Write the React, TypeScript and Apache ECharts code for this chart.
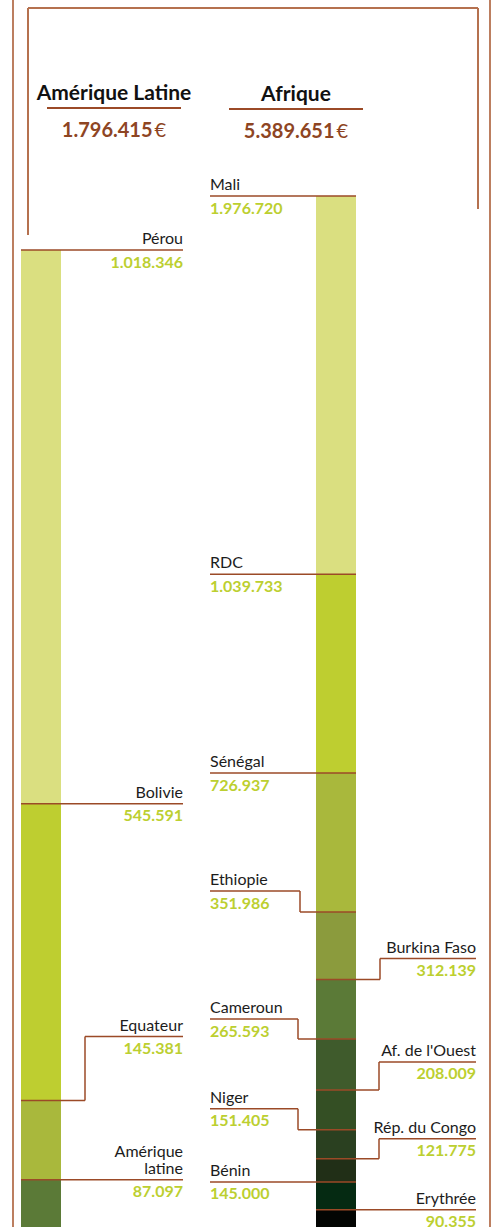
import React, { useEffect, useRef } from "react";
import * as echarts from "echarts";

// ---------- data ----------
const latinNames = ["Pérou", "Bolivie", "Equateur", "Amérique\nlatine"];
const latinValues = [1018346, 545591, 145381, 87097];
const latinTotalLabel = "1.796.415";

const africaNames = [
  "Mali", "RDC", "Sénégal", "Ethiopie", "Burkina Faso", "Cameroun",
  "Af. de l'Ouest", "Niger", "Rép. du Congo", "Bénin", "Erythrée",
];
const africaValues = [
  1976720, 1039733, 726937, 351986, 312139, 265593, 208009, 151405, 121775, 145000, 90355,
];
const africaTotalLabel = "5.389.651";

const regionTitles = ["Amérique Latine", "Afrique"];

// ---------- styles / layout ----------
const latinColors = ["#dadf80", "#bece30", "#a9b83c", "#5b7a37"];
const africaColors = [
  "#dadf80", "#bece30", "#a9b83c", "#8b9b3d", "#5b7a37", "#3f5b2c",
  "#344f24", "#2a4020", "#212f17", "#052a12", "#030503",
];
// label side, vertical offset of label line from segment top, elbow x
const latinLayout = [
  { side: "L", dy: 0, ex: null },
  { side: "L", dy: 0, ex: null },
  { side: "L", dy: -64, ex: 85 },
  { side: "L", dy: 0, ex: null },
];
const africaLayout = [
  { side: "L", dy: 0, ex: null },
  { side: "L", dy: 0, ex: null },
  { side: "L", dy: 0, ex: null },
  { side: "L", dy: -21, ex: 300 },
  { side: "R", dy: -21, ex: 380 },
  { side: "L", dy: -20, ex: 298 },
  { side: "R", dy: -28, ex: 379 },
  { side: "L", dy: -21, ex: 298 },
  { side: "R", dy: -20, ex: 379 },
  { side: "L", dy: 0, ex: null },
  { side: "R", dy: 0, ex: null },
];

const W = 494;
const H = 1227;
const G0 = { left: 21, width: 40, top: 250, height: 977 };
const G1 = { left: 316, width: 40, top: 196, height: 1031 };
const LINE = "#9b4a27";
const FRAME = "#b5714f";
const NAME_C = "#1c1c1c";
const VAL_C = "#bccf30";
const FONT = "Lato";

const fmt = (v: number) => String(v).replace(/\B(?=(\d{3})+(?!\d))/g, ".");

export default function App() {
  const ref = useRef<HTMLDivElement>(null);
  useEffect(() => {
    if (!ref.current) return;
    const chart = echarts.init(ref.current, undefined, { renderer: "svg" });
    const sum = (a: number[]) => a.reduce((s, v) => s + v, 0);

    const mkSeries = (names: string[], vals: number[], colors: string[], gi: number) =>
      vals.map((v, i) => ({
        type: "bar",
        name: names[i],
        stack: "s" + gi,
        xAxisIndex: gi,
        yAxisIndex: gi,
        barWidth: "100%",
        data: [v],
        itemStyle: { color: colors[i] },
        emphasis: { disabled: true },
      }));

    chart.setOption({
      animation: false,
      grid: [
        { left: G0.left, width: G0.width, top: G0.top, height: G0.height },
        { left: G1.left, width: G1.width, top: G1.top, height: G1.height },
      ],
      xAxis: [
        { type: "category", gridIndex: 0, data: [regionTitles[0]], show: false },
        { type: "category", gridIndex: 1, data: [regionTitles[1]], show: false },
      ],
      yAxis: [
        { type: "value", gridIndex: 0, inverse: true, min: 0, max: sum(latinValues), show: false },
        { type: "value", gridIndex: 1, inverse: true, min: 0, max: sum(africaValues), show: false },
      ],
      series: [
        ...mkSeries(latinNames, latinValues, latinColors, 0),
        ...mkSeries(africaNames, africaValues, africaColors, 1),
      ],
    });

    const g: any[] = [];
    const seg = (x1: number, y1: number, x2: number, y2: number, c = LINE, w = 1.5) =>
      g.push({ type: "line", shape: { x1, y1, x2, y2 }, style: { stroke: c, lineWidth: w }, z: 10 });
    const txt = (x: number, y: number, text: string, align: string, va: string, opts: any) =>
      g.push({
        type: "text", x, y, z: 11,
        style: { text, textAlign: align, textVerticalAlign: va, fontFamily: FONT, ...opts },
      });

    // frame
    seg(13, 0, 13, H, FRAME, 1.8);
    seg(490, 0, 490, H, FRAME, 1.8);
    seg(28, 8, 478, 8, FRAME, 2);
    seg(28, 8, 28, 235, FRAME, 2);
    seg(478, 8, 478, 209, FRAME, 2);

    // headers
    const header = (cx: number, title: string, total: string, ulX1: number, ulX2: number, ty: number) => {
      txt(cx, ty, title, "center", "middle", { fontSize: 21, fontWeight: "bold", fill: "#111" });
      seg(ulX1, ty + 17, ulX2, ty + 17, LINE, 2.2);
      g.push({
        type: "text", x: cx, y: ty + 38, z: 11,
        style: {
          text: `{a|${total}}{b|€}`,
          textAlign: "center",
          textVerticalAlign: "middle",
          rich: {
            a: { fontFamily: FONT, fontSize: 20, fontWeight: "bold", fill: "#8e4523", color: "#8e4523" },
            b: { fontFamily: FONT, fontSize: 20, fontWeight: "normal", fill: "#8e4523", color: "#8e4523", padding: [0, 0, 0, 2] },
          },
        },
      });
    };
    header(114, regionTitles[0], latinTotalLabel, 47, 181, 91);
    header(296, regionTitles[1], africaTotalLabel, 229, 363, 92);

    const labels = (
      names: string[], vals: number[], layout: any[], gi: number, G: any,
      leftTextX: number, rightTextX: number
    ) => {
      let cum = 0;
      vals.forEach((v, i) => {
        const yb = chart.convertToPixel({ yAxisIndex: gi } as any, cum) as number;
        cum += v;
        const L = layout[i];
        const ly = yb + L.dy;
        const barL = G.left;
        const barR = G.left + G.width;
        if (L.side === "L") {
          const tx = gi === 0 ? rightTextX : leftTextX;
          const align = gi === 0 ? "right" : "left";
          if (L.ex == null) {
            seg(gi === 0 ? barL : tx, ly, gi === 0 ? tx : barR, ly);
          } else if (gi === 0) {
            seg(L.ex, ly, tx, ly);
            seg(L.ex, ly, L.ex, yb);
            seg(barL, yb, L.ex, yb);
          } else {
            seg(tx, ly, L.ex, ly);
            seg(L.ex, ly, L.ex, yb);
            seg(L.ex, yb, barR, yb);
          }
          txt(tx, ly - 4, names[i], align, "bottom", { fontSize: 16, fill: NAME_C, lineHeight: 17 });
          txt(tx, ly + 3, fmt(v), align, "top", { fontSize: 16, fontWeight: "bold", fill: VAL_C });
        } else {
          const tx = rightTextX;
          if (L.ex == null) {
            seg(barL, ly, tx, ly);
          } else {
            seg(L.ex, ly, tx, ly);
            seg(L.ex, ly, L.ex, yb);
            seg(barL, yb, L.ex, yb);
          }
          txt(tx, ly - 4, names[i], "right", "bottom", { fontSize: 16, fill: NAME_C });
          txt(tx, ly + 3, fmt(v), "right", "top", { fontSize: 16, fontWeight: "bold", fill: VAL_C });
        }
      });
    };
    labels(latinNames, latinValues, latinLayout, 0, G0, 21, 183);
    labels(africaNames, africaValues, africaLayout, 1, G1, 210, 476);

    chart.setOption({ graphic: { elements: g } });
    return () => chart.dispose();
  }, []);
  return (
    <div
      ref={ref}
      style={{ position: "absolute", left: 0, top: 0, width: W, height: H, background: "#fff" }}
    />
  );
}
